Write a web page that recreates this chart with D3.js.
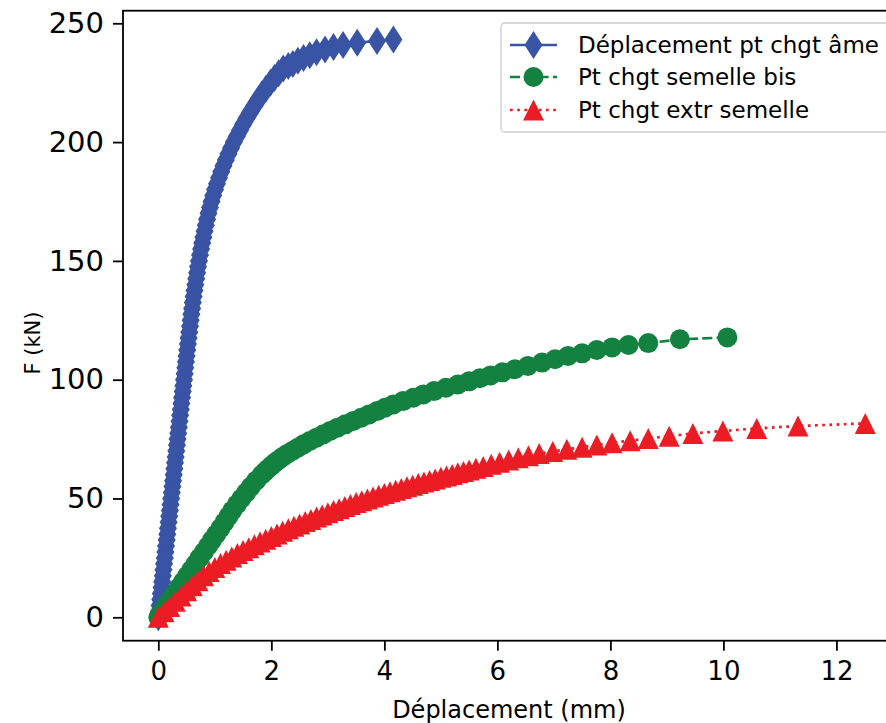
<!DOCTYPE html>
<html><head><meta charset="utf-8">
<script src="https://cdn.jsdelivr.net/npm/d3@7"></script>
<style>body{margin:0;background:#fff;overflow:hidden} svg{display:block} text{font-family:"DejaVu Sans",sans-serif;fill:#000}</style>
</head><body><svg id="c" width="886" height="723"></svg>
<script>
// ---- data ----
const seriesNames = ["Déplacement pt chgt âme", "Pt chgt semelle bis", "Pt chgt extr semelle"];
const xTicks = [0, 2, 4, 6, 8, 10, 12];
const yTicks = [0, 50, 100, 150, 200, 250];
const xLabel = "Déplacement (mm)";
const yLabel = "F (kN)";

// Série 1 : Déplacement pt chgt âme
const blueD = [0,0.011,0.023,0.034,0.045,0.057,0.068,0.080,0.091,0.102,0.114,0.125,0.136,0.148,0.159,0.170,0.182,0.193,0.205,0.216,0.227,0.239,0.250,0.261,0.273,0.284,0.295,0.307,0.318,0.330,0.341,0.352,0.364,0.375,0.386,0.398,0.409,0.420,0.432,0.443,0.455,0.466,0.477,0.489,0.500,
  0.512,0.524,0.536,0.548,0.561,0.573,0.585,0.598,0.611,0.625,0.640,0.655,0.671,0.687,0.703,0.720,0.738,0.757,0.777,0.797,0.818,0.840,0.863,0.888,0.914,0.942,0.972,1.004,1.038,
  1.075,1.113,1.153,1.195,1.240,1.287,1.337,1.390,1.445,1.502,1.562,1.625,1.690,1.758,1.830,1.905,1.985,2.055,2.130,2.210,2.300,2.380,2.470,2.570,2.680,2.800,2.950,3.100,3.270,3.520,3.870,4.160];
const blueF = [0,2.5,5,7.5,10,12.5,15,17.5,20,22.5,25,27.5,30,32.5,35,37.5,40,42.5,45,47.5,50,52.5,55,57.5,60,62.5,65,67.5,70,72.5,75,77.5,80,82.5,85,87.5,90,92.5,95,97.5,100,102.5,105,107.5,110,
  112.5,115,117.5,120,122.5,125,127.5,130,132.5,135,137.5,140,142.5,145,147.5,150,152.5,155,157.5,160,162.5,165,167.5,170,172.5,175,177.5,180,182.5,
  185,187.5,190,192.5,195,197.5,200,202.5,205,207.5,210,212.5,215,217.5,220,222.5,225,227,229,231,232,232.9,234.2,235.4,236.6,237.8,239.0,240.0,240.9,241.8,242.6,243.2];

// Série 2 : Pt chgt semelle bis
const greenD = [0,0.07,0.145,0.22,0.29,0.365,0.44,0.51,0.585,0.66,0.73,0.805,0.88,0.95,1.025,1.10,1.17,1.24,1.31,1.39,1.47,1.555,1.64,1.73,1.83,1.885,1.94,2.00,2.06,2.13,2.20,2.28,2.37,
  2.47,2.57,2.68,2.80,2.92,3.04,3.17,3.31,3.45,3.59,3.73,3.87,4.01,4.16,4.33,4.51,4.69,4.88,5.09,5.30,5.50,5.69,5.88,6.09,6.31,6.54,6.79,7.02,7.25,7.50,7.76,8.03,8.32,8.67,9.23,10.07];
const greenF = [0,2.5,5,7.5,10,12.5,15,17.5,20,22.5,25,27.5,30,32.5,35,37.5,40,42.5,45,47.5,50,52.5,55,57.5,60,61.25,62.5,63.75,65,66.25,67.5,68.75,70,
  71.4,72.8,74.2,75.6,77.0,78.4,79.8,81.2,82.6,84.0,85.4,86.8,88.2,89.6,91.0,92.4,93.8,95.2,96.6,98.0,99.3,100.6,101.8,103.1,104.4,105.8,107.2,108.6,110.0,111.1,112.5,113.6,114.6,115.4,117.0,117.8];

// Série 3 : Pt chgt extr semelle
const redD = [0,0.1,0.2,0.3,0.4,0.5,0.6,0.7,0.8,0.9,1.0,1.1,1.2,1.3,1.4,1.5,1.6,1.7,1.8,1.9,2.0,2.1,2.2,2.3,2.4,2.5,2.6,2.7,2.8,2.9,3.0,3.1,3.2,3.3,3.4,3.5,3.6,3.7,3.8,3.9,4.0,4.1,4.2,4.3,4.4,4.5,4.6,4.7,4.8,4.9,5.0,5.1,5.2,5.3,5.4,5.5,
  5.62,5.75,5.89,6.04,6.20,6.37,6.55,6.74,6.98,7.23,7.50,7.76,8.03,8.35,8.67,9.04,9.46,9.99,10.59,11.32,12.51];
const redF = [0,2.3,4.5,6.8,9.0,11.2,13.3,15.4,17.5,19.3,21.0,22.6,24.0,25.4,26.8,28.1,29.3,30.5,31.7,32.9,34.0,35.1,36.2,37.3,38.3,39.3,40.3,41.2,42.2,43.1,44.0,44.9,45.7,46.6,47.5,48.3,49.1,49.8,50.6,51.4,52.1,52.8,53.5,54.2,54.9,55.6,56.3,56.9,57.6,58.2,58.9,59.5,60.1,60.8,61.4,62.0,
  62.7,63.5,64.4,65.3,66.2,67.1,68.0,68.9,69.8,70.7,71.6,72.5,73.5,74.3,75.3,76.2,77.4,78.4,79.5,80.5,81.6];

// ---- drawing ----
const colors = ["#3953a5", "#13813f", "#ec1c24"];
const svg = d3.select("#c");
const x = d3.scaleLinear().domain([-0.625, 13.125]).range([123, 900]);
const y = d3.scaleLinear().domain([-9.85, 255.3]).range([640.7, 10.7]);

const markers = {
  diamond: "M0,-14L9,0L0,14L-9,0Z",
  triangle: "M0,-10.5L10.5,10.5L-10.5,10.5Z"
};
const styles = [
  {dash: null, marker: "diamond"},
  {dash: "10,4.3", marker: "circle"},
  {dash: "2.7,4.5", marker: "triangle"}
];
const series = [
  d3.zip(blueD, blueF),
  d3.zip(greenD, greenF),
  d3.zip(redD, redF)
];

const line = d3.line().x(d => x(d[0])).y(d => y(d[1]));
const plot = svg.append("g");
function drawMarker(sel, kind, color) {
  if (kind === "circle") {
    sel.append("circle").attr("r", 10).attr("fill", color);
  } else {
    sel.append("path").attr("d", markers[kind]).attr("fill", color);
  }
}
series.forEach((data, i) => {
  const g = plot.append("g");
  g.append("path").datum(data).attr("d", line)
    .attr("fill", "none").attr("stroke", colors[i]).attr("stroke-width", 2.7)
    .attr("stroke-dasharray", styles[i].dash);
  const m = g.selectAll("g.m").data(data).join("g").attr("class", "m")
    .attr("transform", d => `translate(${x(d[0])},${y(d[1])})`);
  drawMarker(m, styles[i].marker, colors[i]);
});

// axes
const yAxis = svg.append("g").attr("transform", "translate(123,0)")
  .call(d3.axisLeft(y).tickValues(yTicks).tickSize(10).tickPadding(9).tickFormat(d3.format("d")));
yAxis.select(".domain").remove();
yAxis.selectAll(".tick line").attr("stroke", "#000").attr("stroke-width", 1.8);
yAxis.selectAll(".tick text").attr("font-size", 29).attr("font-family", "DejaVu Sans");

const xAxis = svg.append("g").attr("transform", "translate(0,640.7)")
  .call(d3.axisBottom(x).tickValues(xTicks).tickSize(10).tickPadding(11).tickFormat(d3.format("d")));
xAxis.select(".domain").remove();
xAxis.selectAll(".tick line").attr("stroke", "#000").attr("stroke-width", 1.8);
xAxis.selectAll(".tick text").attr("font-size", 26).attr("font-family", "DejaVu Sans");

// frame
svg.append("rect").attr("x", 123).attr("y", 10.7).attr("width", 777).attr("height", 630)
  .attr("fill", "none").attr("stroke", "#000").attr("stroke-width", 1.8);

// labels
svg.append("text").attr("x", 509).attr("y", 718).attr("text-anchor", "middle")
  .attr("font-size", 24).text(xLabel);
svg.append("text").attr("transform", "translate(33,343) rotate(-90)")
  .attr("text-anchor", "middle").attr("dominant-baseline", "central")
  .attr("font-size", 21).text(yLabel);

// legend
const lg = svg.append("g");
lg.append("rect").attr("x", 501).attr("y", 23).attr("width", 420).attr("height", 109).attr("rx", 4)
  .attr("fill", "#fff").attr("fill-opacity", 0.8).attr("stroke", "#cccccc").attr("stroke-width", 1.3);
const rowY = [45, 77, 110];
seriesNames.forEach((name, i) => {
  const r = lg.append("g").attr("transform", `translate(0,${rowY[i]})`);
  r.append("line").attr("x1", 510).attr("x2", 557).attr("y1", 0).attr("y2", 0)
    .attr("stroke", colors[i]).attr("stroke-width", 2.7).attr("stroke-dasharray", styles[i].dash);
  const mg = r.append("g").attr("transform", "translate(533.5,0)");
  drawMarker(mg, styles[i].marker, colors[i]);
  r.append("text").attr("x", 578).attr("y", 0).attr("dy", "0.36em")
    .attr("font-size", 23).text(name);
});
</script></body></html>
